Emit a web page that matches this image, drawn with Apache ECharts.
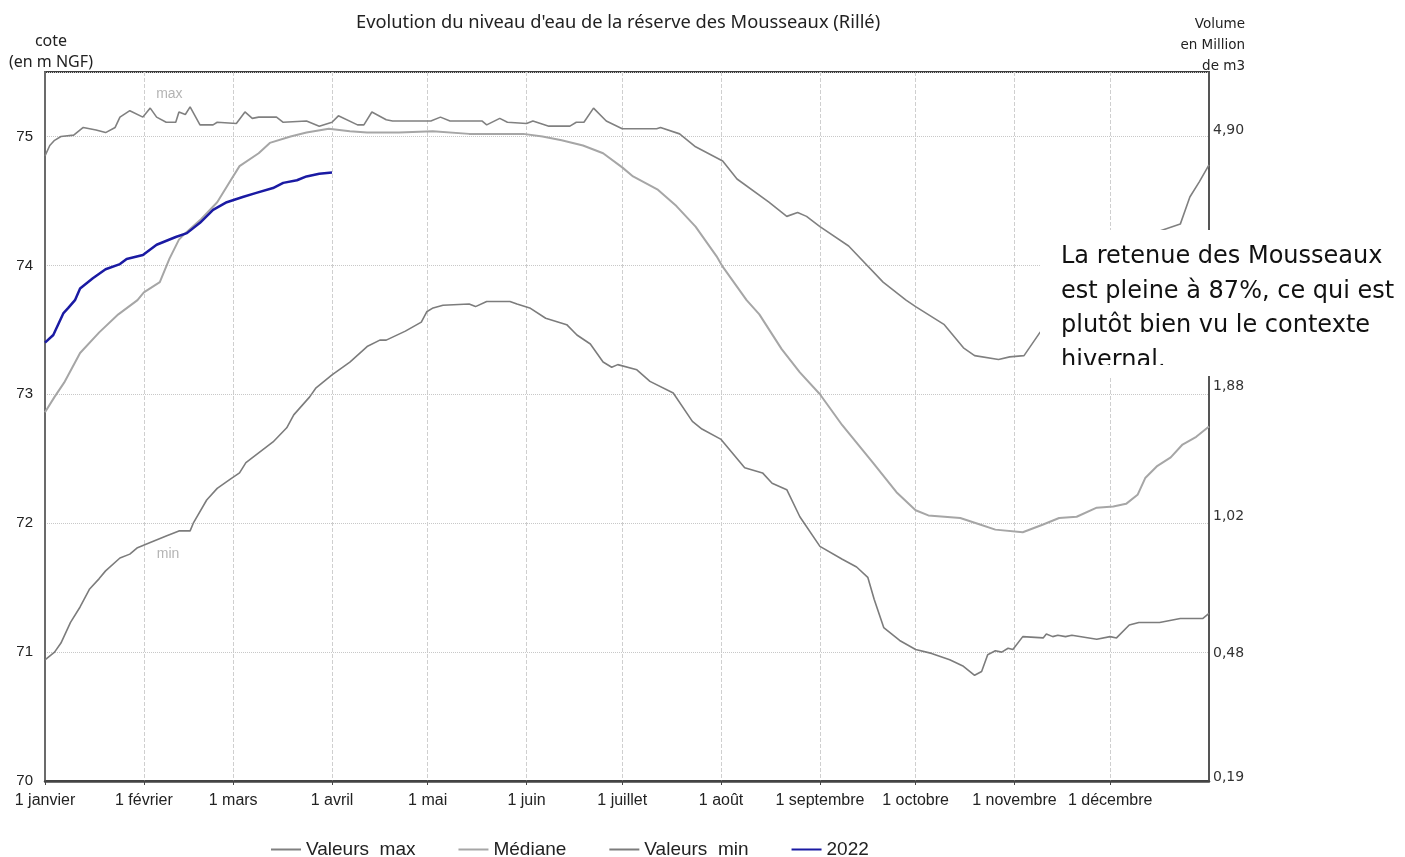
<!DOCTYPE html>
<html>
<head>
<meta charset="utf-8">
<title>Réserve des Mousseaux</title>
<script src="https://cdn.jsdelivr.net/npm/echarts@6.0.0/dist/echarts.min.js"></script>
<style>
	html, body { margin: 0; padding: 0; background: #fff; }
	.chart { width: 1405px; height: 857px; }
</style>
</head>
<body>
<div class="chart"></div>
<script>
// jour de l'année (0 = 1 janvier) et cote en m NGF
var monthDays = [0, 31, 59, 90, 120, 151, 181, 212, 243, 273, 304, 334]
var monthLabels = ['1 janvier', '1 février', '1 mars', '1 avril', '1 mai', '1 juin', '1 juillet', '1 août', '1 septembre', '1 octobre', '1 novembre', '1 décembre']

var maxDays = [0, 1.5, 3, 5, 9, 12, 16, 19, 22, 23.5, 26.6, 30.7, 33, 35, 38, 41, 42, 44, 45.5, 48.6, 52.7, 54, 60, 62.7, 65, 67, 72.6, 74.7, 82, 86, 90, 92, 98, 100, 102.5, 107, 109, 121, 124, 127, 137, 138.5, 142.6, 145, 151, 153, 158, 164.6, 166.6, 169, 172, 176, 181, 191.8, 193, 199, 204, 212.5, 217, 227, 232.6, 236, 238.8, 243, 252, 262.8, 270, 273, 282, 288, 291.5, 299, 302.5, 307, 312, 320, 330, 340, 350, 356, 359, 362, 365]
var maxLevel = [74.85, 74.93, 74.97, 75.0, 75.01, 75.07, 75.05, 75.03, 75.07, 75.15, 75.2, 75.15, 75.22, 75.15, 75.11, 75.11, 75.19, 75.17, 75.23, 75.09, 75.09, 75.11, 75.1, 75.19, 75.14, 75.15, 75.15, 75.11, 75.12, 75.08, 75.11, 75.16, 75.09, 75.09, 75.19, 75.13, 75.12, 75.12, 75.15, 75.12, 75.12, 75.09, 75.14, 75.11, 75.1, 75.12, 75.08, 75.08, 75.11, 75.11, 75.22, 75.12, 75.06, 75.06, 75.07, 75.02, 74.92, 74.81, 74.67, 74.49, 74.38, 74.41, 74.38, 74.3, 74.15, 73.87, 73.73, 73.68, 73.54, 73.36, 73.3, 73.27, 73.29, 73.3, 73.48, 73.72, 73.98, 74.15, 74.27, 74.32, 74.53, 74.65, 74.78]

var medDays = [0, 3, 6, 11, 17, 23, 29, 31, 36, 39, 42, 44, 49, 54, 58, 61, 67, 70.5, 77, 82, 89, 95.6, 101, 111, 121.6, 133, 141.6, 150, 156, 162, 168.7, 175, 181, 184.4, 192, 198, 204, 210.6, 212.5, 220, 224, 231, 236.7, 243, 250, 259.6, 267, 273, 277, 287, 292, 298, 306.6, 313, 318, 323.5, 329.8, 335, 339, 342.6, 345, 348.6, 353, 356.7, 361, 365]
var medLevel = [72.86, 72.98, 73.09, 73.32, 73.48, 73.62, 73.73, 73.79, 73.87, 74.05, 74.2, 74.25, 74.36, 74.49, 74.65, 74.77, 74.87, 74.95, 75.0, 75.03, 75.06, 75.04, 75.03, 75.03, 75.04, 75.02, 75.02, 75.02, 75.0, 74.97, 74.93, 74.87, 74.76, 74.69, 74.59, 74.46, 74.3, 74.07, 73.99, 73.73, 73.62, 73.35, 73.17, 73.0, 72.76, 72.47, 72.24, 72.1, 72.06, 72.04, 72.0, 71.95, 71.93, 71.99, 72.04, 72.05, 72.12, 72.13, 72.15, 72.22, 72.35, 72.44, 72.51, 72.61, 72.67, 72.75]

var minDays = [0, 3, 5, 8, 11, 14, 17, 19, 23.5, 26.6, 29, 33, 38, 42, 45.5, 46.5, 50.7, 54, 58, 61, 63, 71.5, 75.8, 78, 83, 85, 90, 95.6, 101, 105, 107, 113, 118, 119.7, 121.7, 124.8, 133, 135, 138.5, 145.8, 148, 152, 157, 163.6, 166.8, 171, 175, 177.7, 179.6, 185.6, 189.7, 197, 203, 206, 212, 219.4, 225, 228, 232.6, 236.7, 243, 250, 254.5, 258, 260, 263, 268, 273, 278, 283.7, 288, 291.5, 293.7, 295.6, 298, 300, 302, 303.5, 306.6, 313, 314, 316, 317.6, 320, 322, 329.8, 334, 336, 340, 343, 349.5, 356, 363, 365]
var minLevel = [70.94, 71.0, 71.07, 71.23, 71.35, 71.49, 71.57, 71.63, 71.73, 71.76, 71.81, 71.85, 71.9, 71.94, 71.94, 72.0, 72.18, 72.27, 72.34, 72.39, 72.47, 72.63, 72.74, 72.84, 72.98, 73.05, 73.15, 73.25, 73.37, 73.42, 73.42, 73.49, 73.56, 73.64, 73.67, 73.69, 73.7, 73.68, 73.72, 73.72, 73.7, 73.67, 73.59, 73.54, 73.46, 73.39, 73.25, 73.21, 73.23, 73.19, 73.1, 73.01, 72.79, 72.73, 72.65, 72.43, 72.39, 72.31, 72.26, 72.05, 71.82, 71.72, 71.66, 71.58, 71.41, 71.19, 71.09, 71.02, 70.99, 70.94, 70.89, 70.82, 70.85, 70.98, 71.01, 71.0, 71.03, 71.02, 71.12, 71.11, 71.14, 71.12, 71.13, 71.12, 71.13, 71.1, 71.12, 71.11, 71.21, 71.23, 71.23, 71.26, 71.26, 71.3]

var y2022Days = [0, 2.6, 5.8, 7.3, 9.4, 11, 15, 19, 23.5, 25.6, 30.7, 35, 41, 44.5, 48.6, 52.7, 57, 62, 66, 71.5, 74.7, 79, 82, 86, 90]
var y2022Level = [73.4, 73.46, 73.63, 73.67, 73.73, 73.82, 73.9, 73.97, 74.01, 74.05, 74.08, 74.16, 74.22, 74.25, 74.33, 74.43, 74.49, 74.53, 74.56, 74.6, 74.64, 74.66, 74.69, 74.71, 74.72]

// volume (axe de droite) pour chaque cote
var volumeTicks = [70, 71, 72, 73, 74, 75]
var volumeLabels = ['0,19', '0,48', '1,02', '1,88', '', '4,90']

var noteLines = ['La retenue des Mousseaux', 'est pleine à 87%, ce qui est', 'plutôt bien vu le contexte', 'hivernal.']

let pairs = (days, vals) => days.map((d, i) => [d, vals[i]])

;(function() {
	var myChart = echarts.init(document.querySelector('.chart'))
	var grey = '#808080'
	// décalage vertical des étiquettes de volume (px, négatif = vers le haut)
	var volShift = [-4, 1, -7, -8, 0, -6]
	var rich = {}
	volShift.forEach(function(s, i) {
		rich['v' + i] = {
			fontFamily: 'DejaVu Sans', fontSize: 14, color: '#333',
			padding: s < 0 ? [0, 0, -2 * s, 0] : [2 * s, 0, 0, 0]
		}
	})
	let option = {
		animation: false,
		title: {
			text: "Evolution du niveau d'eau de la réserve des Mousseaux (Rillé)",
			left: 351,
			top: 9,
			textStyle: { fontFamily: 'Noto Sans', fontSize: 18.3, fontWeight: 'normal', color: '#222' }
		},
		legend: {
			left: 266,
			top: 835,
			icon: 'rect',
			itemWidth: 30,
			itemHeight: 2,
			itemGap: 43,
			selectedMode: false,
			textStyle: { fontFamily: 'Liberation Sans', fontSize: 19, color: '#222' },
			data: ['Valeurs  max', 'Médiane', 'Valeurs  min', '2022']
		},
		grid: {
			left: 45,
			right: 196,
			top: 72,
			bottom: 76,
			show: true,
			borderColor: '#3c3c3c',
			borderWidth: 2
		},
		xAxis: {
			type: 'value',
			min: 0,
			max: 365,
			axisLine: { lineStyle: { color: '#444', width: 2.5 } },
			axisTick: { customValues: monthDays, length: 4, lineStyle: { color: '#444' } },
			axisLabel: {
				customValues: monthDays,
				margin: 12,
				fontFamily: 'Liberation Sans',
				fontSize: 16,
				color: '#222',
				formatter: function(v) { return monthLabels[monthDays.indexOf(v)] || '' }
			},
			splitLine: { show: true, lineStyle: { color: '#cfcfcf', type: 'dashed' } }
		},
		yAxis: [{
			type: 'value',
			min: 70,
			max: 75.5,
			interval: 1,
			axisLine: { show: true, lineStyle: { color: '#6b6b6b', width: 2 } },
			axisTick: { show: false },
			axisLabel: {
				margin: 12,
				fontFamily: 'Liberation Sans',
				fontSize: 15,
				color: '#222',
				formatter: function(v) { return Number.isInteger(v) ? String(v) : '' }
			},
			splitLine: { lineStyle: { color: '#c8c8c8', type: 'dotted' } }
		}, {
			type: 'value',
			position: 'right',
			min: 70,
			max: 75.5,
			interval: 1,
			axisLine: { show: true, lineStyle: { color: '#555', width: 2 } },
			axisTick: { show: false },
			splitLine: { show: false },
			axisLabel: {
				margin: 4,
				rich: rich,
				formatter: function(v) {
					var i = volumeTicks.indexOf(v)
					if (i < 0 || !volumeLabels[i]) return ''
					return '{v' + i + '|' + volumeLabels[i] + '}'
				}
			}
		}],
		series: [{
			name: 'Valeurs  max',
			type: 'line',
			showSymbol: false,
			color: grey,
			lineStyle: { color: grey, width: 1.6 },
			data: pairs(maxDays, maxLevel),
			markPoint: {
				symbol: 'circle',
				symbolSize: 1,
				itemStyle: { color: 'rgba(0,0,0,0)' },
				label: { show: true, position: 'inside', formatter: 'max', color: '#b4b4b4', fontFamily: 'Liberation Sans', fontSize: 14 },
				data: [{ coord: [39, 75.33] }]
			}
		}, {
			name: 'Médiane',
			type: 'line',
			showSymbol: false,
			color: '#a6a6a6',
			lineStyle: { color: '#a6a6a6', width: 2 },
			data: pairs(medDays, medLevel)
		}, {
			name: 'Valeurs  min',
			type: 'line',
			showSymbol: false,
			color: '#7c7c7c',
			lineStyle: { color: '#7c7c7c', width: 1.6 },
			data: pairs(minDays, minLevel),
			markPoint: {
				symbol: 'circle',
				symbolSize: 1,
				itemStyle: { color: 'rgba(0,0,0,0)' },
				label: { show: true, position: 'inside', formatter: 'min', color: '#b4b4b4', fontFamily: 'Liberation Sans', fontSize: 14 },
				data: [{ coord: [38.6, 71.76] }]
			}
		}, {
			name: '2022',
			type: 'line',
			showSymbol: false,
			color: '#1a1aa3',
			lineStyle: { color: '#1a1aa3', width: 2.5 },
			data: pairs(y2022Days, y2022Level)
		}],
		graphic: [{
			type: 'text',
			x: 51, y: 31, z: 10,
			style: { text: 'cote\n(en m NGF)', align: 'center', verticalAlign: 'top', lineHeight: 21, fill: '#222', font: '16px "Noto Sans"' }
		}, {
			type: 'text',
			x: 1245, y: 14, z: 10,
			style: { text: 'Volume\nen Million\nde m3', align: 'right', verticalAlign: 'top', lineHeight: 21, fill: '#222', font: '13.5px "DejaVu Sans"' }
		}, {
			// encadré blanc avec le commentaire
			type: 'rect',
			z: 100,
			shape: { x: 1040, y: 230, width: 365, height: 146 },
			style: { fill: '#fff' }
		}, {
			type: 'text',
			z: 101,
			x: 1061, y: 240,
			style: { text: noteLines.join('\n'), verticalAlign: 'top', lineHeight: 34.5, fill: '#111', font: '24px "DejaVu Sans"' }
		}, {
			type: 'rect',
			z: 102,
			shape: { x: 1041, y: 365, width: 364, height: 11 },
			style: { fill: '#fff' }
		}]
	};
	myChart.setOption(option);
	window.addEventListener("resize", function() {
		myChart.resize();
	})
})();
</script>
</body>
</html>
